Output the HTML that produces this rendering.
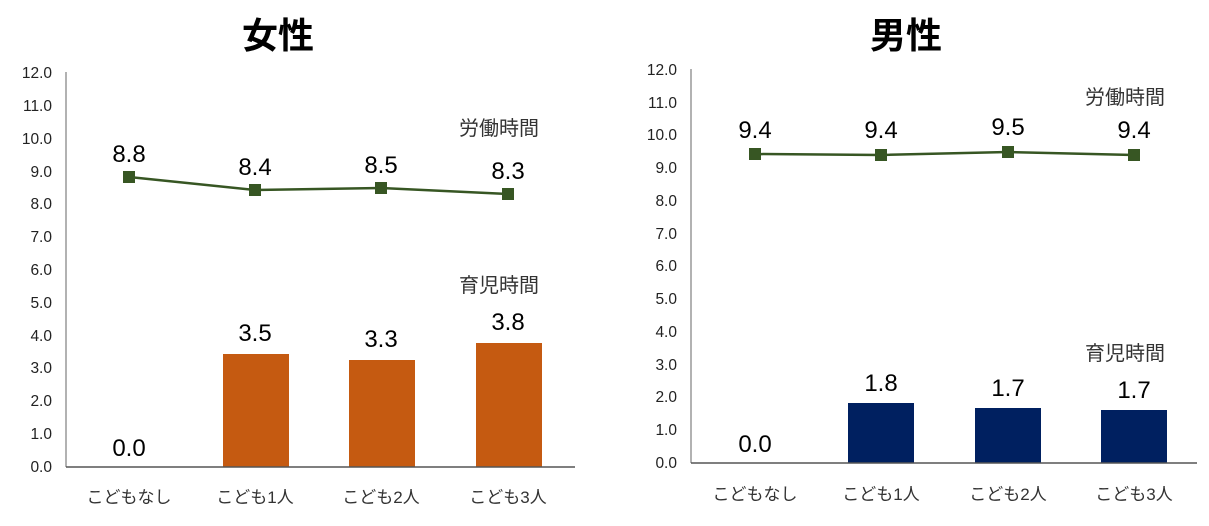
<!DOCTYPE html>
<html><head><meta charset="utf-8"><style>
html,body{margin:0;padding:0;background:#fff;}
svg text{font-family:"Liberation Sans","Noto Sans CJK JP",sans-serif;}
</style></head><body>
<svg width="1209" height="521" xmlns="http://www.w3.org/2000/svg">
<g fill="#000">
<text x="278" y="48" font-size="36" font-weight="bold" text-anchor="middle">女性</text>
<text x="906" y="48" font-size="36" font-weight="bold" text-anchor="middle">男性</text>
</g>
<!-- left chart -->
<g font-size="15.5" fill="#222" text-anchor="end">
<text x="52" y="78">12.0</text><text x="52" y="111">11.0</text><text x="52" y="144">10.0</text>
<text x="52" y="177">9.0</text><text x="52" y="209">8.0</text><text x="52" y="242">7.0</text>
<text x="52" y="275">6.0</text><text x="52" y="308">5.0</text><text x="52" y="341">4.0</text>
<text x="52" y="373">3.0</text><text x="52" y="406">2.0</text><text x="52" y="439">1.0</text>
<text x="52" y="472">0.0</text>
</g>
<line x1="66" y1="72" x2="66" y2="467" stroke="#999" stroke-width="1.5"/>
<rect x="223" y="354" width="66" height="113" fill="#c55a11"/>
<rect x="349" y="360" width="66" height="107" fill="#c55a11"/>
<rect x="476" y="343" width="66" height="124" fill="#c55a11"/>
<line x1="66" y1="467" x2="575" y2="467" stroke="#555" stroke-width="1.5"/>
<polyline points="129,177 255,190 381,188 508,194" fill="none" stroke="#375623" stroke-width="2.5"/>
<g fill="#375623"><rect x="123" y="171" width="12" height="12"/><rect x="249" y="184" width="12" height="12"/><rect x="375" y="182" width="12" height="12"/><rect x="502" y="188" width="12" height="12"/></g>
<g font-size="24" fill="#000" text-anchor="middle">
<text x="129" y="162">8.8</text><text x="255" y="175">8.4</text><text x="381" y="173">8.5</text><text x="508" y="179">8.3</text>
<text x="129" y="456">0.0</text><text x="255" y="341">3.5</text><text x="381" y="347">3.3</text><text x="508" y="330">3.8</text>
</g>
<g font-size="20" fill="#333" text-anchor="middle">
<text x="499" y="135">労働時間</text><text x="499" y="292">育児時間</text>
<text x="1125" y="104">労働時間</text>
</g>
<g font-size="17" fill="#333" text-anchor="middle">
<text x="129" y="503">こどもなし</text><text x="255" y="503">こども1人</text><text x="381" y="503">こども2人</text><text x="508" y="503">こども3人</text>
<text x="755" y="500">こどもなし</text><text x="881" y="500">こども1人</text><text x="1008" y="500">こども2人</text><text x="1134" y="500">こども3人</text>
</g>
<!-- right chart -->
<g font-size="15.5" fill="#222" text-anchor="end">
<text x="677" y="75">12.0</text><text x="677" y="108">11.0</text><text x="677" y="140">10.0</text>
<text x="677" y="173">9.0</text><text x="677" y="206">8.0</text><text x="677" y="239">7.0</text>
<text x="677" y="271">6.0</text><text x="677" y="304">5.0</text><text x="677" y="337">4.0</text>
<text x="677" y="370">3.0</text><text x="677" y="402">2.0</text><text x="677" y="435">1.0</text>
<text x="677" y="468">0.0</text>
</g>
<line x1="691" y1="69" x2="691" y2="463" stroke="#999" stroke-width="1.5"/>
<rect x="848" y="403" width="66" height="60" fill="#002060"/>
<rect x="975" y="408" width="66" height="55" fill="#002060"/>
<rect x="1101" y="410" width="66" height="53" fill="#002060"/>
<line x1="691" y1="463" x2="1197" y2="463" stroke="#555" stroke-width="1.5"/>
<polyline points="755,154 881,155 1008,152 1134,155" fill="none" stroke="#375623" stroke-width="2.5"/>
<g fill="#375623"><rect x="749" y="148" width="12" height="12"/><rect x="875" y="149" width="12" height="12"/><rect x="1002" y="146" width="12" height="12"/><rect x="1128" y="149" width="12" height="12"/></g>
<g font-size="24" fill="#000" text-anchor="middle">
<text x="755" y="138">9.4</text><text x="881" y="138">9.4</text><text x="1008" y="135">9.5</text><text x="1134" y="138">9.4</text>
<text x="755" y="452">0.0</text><text x="881" y="391">1.8</text><text x="1008" y="396">1.7</text><text x="1134" y="398">1.7</text>
</g>
<g font-size="20" fill="#333" text-anchor="middle">
<text x="1125" y="360">育児時間</text>
</g>
</svg>
</body></html>
